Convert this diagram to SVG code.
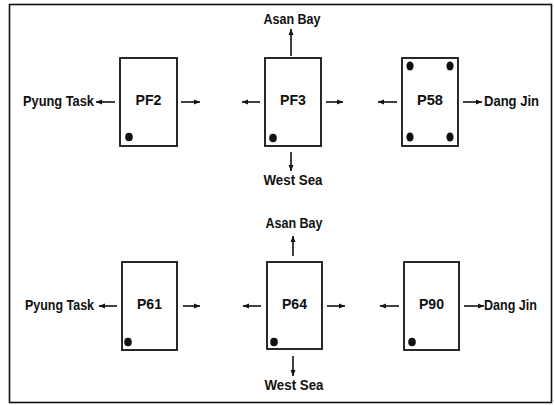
<svg xmlns="http://www.w3.org/2000/svg" width="554" height="405" viewBox="0 0 554 405">
<style>
.frame{fill:none;stroke:#111;stroke-width:1.6}
.box{fill:#fff;stroke:#111;stroke-width:1.8}
.dot{fill:#111}
.lbl{font-family:"Liberation Sans",Arial,sans-serif;font-weight:bold;font-size:14px;fill:#111}
.c{text-anchor:middle}
.arr{stroke:#111;stroke-width:1.6;fill:none;marker-end:url(#ah)}
</style>
<defs>
<marker id="ah" markerUnits="userSpaceOnUse" markerWidth="7" markerHeight="6" refX="6" refY="3" orient="auto">
<path d="M0,0.5 L6,3 L0,5.5 Z" fill="#111"/>
</marker>
</defs>
<rect class="frame" x="9.5" y="4.5" width="542" height="398"/>
<g id="pf2">
<rect class="box" x="120" y="58" width="57" height="88"/>
<text class="lbl c" x="148.5" y="105" textLength="26" lengthAdjust="spacingAndGlyphs">PF2</text>
<ellipse class="dot" cx="129" cy="137" rx="3.8" ry="4.3"/>
</g>
<g id="pf3">
<rect class="box" x="265" y="58" width="56" height="88"/>
<text class="lbl c" x="293" y="105" textLength="26" lengthAdjust="spacingAndGlyphs">PF3</text>
<ellipse class="dot" cx="273" cy="138" rx="3.8" ry="4.3"/>
</g>
<g id="p58">
<rect class="box" x="402" y="58" width="56" height="88"/>
<text class="lbl c" x="430" y="105" textLength="26" lengthAdjust="spacingAndGlyphs">P58</text>
<ellipse class="dot" cx="410" cy="66" rx="3.6" ry="4.6"/>
<ellipse class="dot" cx="450" cy="66" rx="3.6" ry="4.6"/>
<ellipse class="dot" cx="410" cy="137" rx="3.6" ry="4.6"/>
<ellipse class="dot" cx="450" cy="137" rx="3.6" ry="4.6"/>
</g>
<g id="p61">
<rect class="box" x="122" y="262" width="55" height="88"/>
<text class="lbl c" x="149.5" y="309" textLength="25" lengthAdjust="spacingAndGlyphs">P61</text>
<ellipse class="dot" cx="128" cy="342" rx="3.8" ry="4.3"/>
</g>
<g id="p64">
<rect class="box" x="267" y="262" width="55" height="87"/>
<text class="lbl c" x="294.5" y="309" textLength="25" lengthAdjust="spacingAndGlyphs">P64</text>
<ellipse class="dot" cx="274" cy="342" rx="3.8" ry="4.3"/>
</g>
<g id="p90">
<rect class="box" x="404" y="262" width="55" height="88"/>
<text class="lbl c" x="431.5" y="309" textLength="25" lengthAdjust="spacingAndGlyphs">P90</text>
<ellipse class="dot" cx="412" cy="342" rx="3.8" ry="4.3"/>
</g>
<g id="labels">
<text class="lbl" x="23" y="106" textLength="71" lengthAdjust="spacingAndGlyphs">Pyung Task</text>
<text class="lbl c" x="292" y="24" textLength="57" lengthAdjust="spacingAndGlyphs">Asan Bay</text>
<text class="lbl c" x="293" y="185" textLength="59" lengthAdjust="spacingAndGlyphs">West Sea</text>
<text class="lbl" x="484" y="106" textLength="55" lengthAdjust="spacingAndGlyphs">Dang Jin</text>
<text class="lbl" x="25" y="310" textLength="69" lengthAdjust="spacingAndGlyphs">Pyung Task</text>
<text class="lbl c" x="294" y="228" textLength="57" lengthAdjust="spacingAndGlyphs">Asan Bay</text>
<text class="lbl c" x="294" y="390" textLength="59" lengthAdjust="spacingAndGlyphs">West Sea</text>
<text class="lbl" x="484" y="310" textLength="53" lengthAdjust="spacingAndGlyphs">Dang Jin</text>
</g>
<g id="connectors">
<line class="arr" x1="115" y1="102" x2="96" y2="102"/>
<line class="arr" x1="181" y1="102" x2="200" y2="102"/>
<line class="arr" x1="260" y1="102" x2="242" y2="102"/>
<line class="arr" x1="291" y1="56" x2="291" y2="29"/>
<line class="arr" x1="291" y1="152" x2="291" y2="171"/>
<line class="arr" x1="326" y1="102" x2="343" y2="102"/>
<line class="arr" x1="397" y1="102" x2="378" y2="102"/>
<line class="arr" x1="463" y1="102" x2="482" y2="102"/>
<line class="arr" x1="117" y1="306" x2="99" y2="306"/>
<line class="arr" x1="183" y1="306" x2="200" y2="306"/>
<line class="arr" x1="261" y1="306" x2="243" y2="306"/>
<line class="arr" x1="293" y1="256" x2="293" y2="236"/>
<line class="arr" x1="293" y1="356" x2="293" y2="376"/>
<line class="arr" x1="327" y1="306" x2="345" y2="306"/>
<line class="arr" x1="399" y1="306" x2="380" y2="306"/>
<line class="arr" x1="464" y1="306" x2="484" y2="306"/>
</g>
</svg>
